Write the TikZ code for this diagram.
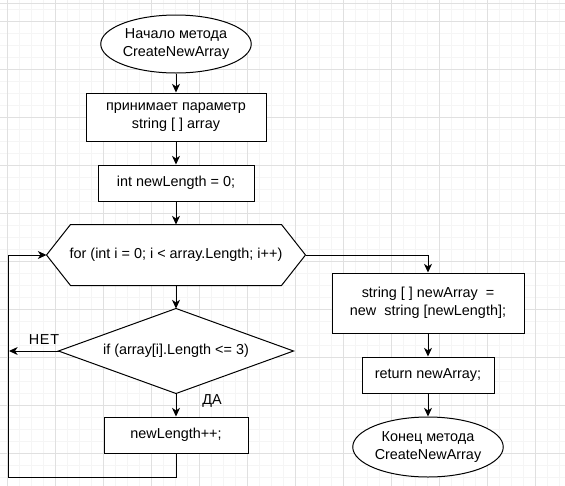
\documentclass[tikz,border=0pt]{standalone}
\usepackage{fontspec}
\setmainfont{Liberation Sans}
\usetikzlibrary{shapes.geometric,arrows.meta,calc}
\tikzset{
  gridminor/.style={draw={rgb,255:red,245;green,245;blue,245},line width=0.75pt},
  gridmajor/.style={draw={rgb,255:red,224;green,224;blue,224},line width=0.75pt},
  base/.style={font=\fontsize{10.8}{13.5}\selectfont,align=center,inner sep=0pt,line width=0.75pt},
  proc/.style={base,draw,fill=white,rectangle},
  term/.style={base,draw,fill=white,ellipse},
  ghost/.style={base,rectangle,draw=none},
  conn/.style={line width=0.75pt,-{Stealth[length=6.5pt,width=6pt,inset=2pt]}},
  lbl/.style={font=\fontsize{10.8}{13.5}\selectfont,inner sep=0pt}
}
\begin{document}
\begin{tikzpicture}[x=0.75pt,y=-0.75pt]
\useasboundingbox (0,0) rectangle (565,486);
\fill[white] (0,0) rectangle (565,486);
\foreach \x in {7,19,...,565} \draw[gridminor] (\x,0) -- (\x,486);
\foreach \y in {9,21,...,486} \draw[gridminor] (0,\y) -- (565,\y);
\foreach \x in {7,55,...,565} \draw[gridmajor] (\x,0) -- (\x,486);
\foreach \y in {21,69,...,486} \draw[gridmajor] (0,\y) -- (565,\y);
\draw[gridmajor] (0,3) -- (565,3);

\node[term,minimum width=108.75pt,minimum height=43.5pt] (start) at (176,44) {Начало метода\\CreateNewArray};
\node[proc,minimum width=135pt,minimum height=36pt] (p1) at (176,117) {принимает параметр\\string [ ] array};
\node[proc,minimum width=117pt,minimum height=27pt] (p2) at (176,183) {int newLength = 0;};
\node[ghost,minimum width=193.5pt,minimum height=45pt] (hex) at (176,255) {};
\draw[line width=0.75pt,fill=white] ([xshift=18pt]hex.north west) -- ([xshift=-18pt]hex.north east) -- (hex.east) -- ([xshift=-18pt]hex.south east) -- ([xshift=18pt]hex.south west) -- (hex.west) -- cycle;
\node[base] (hext) at (hex.center) {for (int i = 0; i {\char"3C} array.Length; i++)};
\node[ghost,minimum width=175.5pt,minimum height=63pt] (dia) at (176,351) {};
\draw[line width=0.75pt,fill=white] (dia.north) -- (dia.east) -- (dia.south) -- (dia.west) -- cycle;
\node[base] (diat) at (dia.center) {if (array[i].Length {\char"3C}= 3)};
\node[proc,minimum width=108pt,minimum height=27pt] (p3) at (176,435) {newLength++;};
\node[proc,minimum width=144pt,minimum height=45pt] (p4) at (428,303) {string [ ] newArray \ =\\new \ string [newLength];};
\node[proc,minimum width=99pt,minimum height=27pt] (p5) at (428,375) {return newArray;};
\node[term,minimum width=108.75pt,minimum height=45pt] (stop) at (428,447) {Конец метода\\CreateNewArray};

\coordinate (noend) at (9,351);
\coordinate (loopA) at (8,477);

\draw[conn] (start) -- (p1);
\draw[conn] (p1) -- (p2);
\draw[conn] (p2) -- (hex.north);
\draw[conn] (hex.south) -- (dia.north);
\draw[conn] (dia.south) -- (p3);
\draw[conn] (dia.west) -- (noend);
\draw[conn] (p3.south) |- (loopA) |- (hex.west);
\draw[conn] (hex.east) -| (p4.north);
\draw[conn] (p4) -- (p5);
\draw[conn] (p5) -- (stop);

\node[lbl] (net) at (44,340) {Н\kern0.6ptЕ\kern0.6ptТ};
\node[lbl,anchor=west] (da) at (202,401) {ДА};
\end{tikzpicture}
\end{document}
